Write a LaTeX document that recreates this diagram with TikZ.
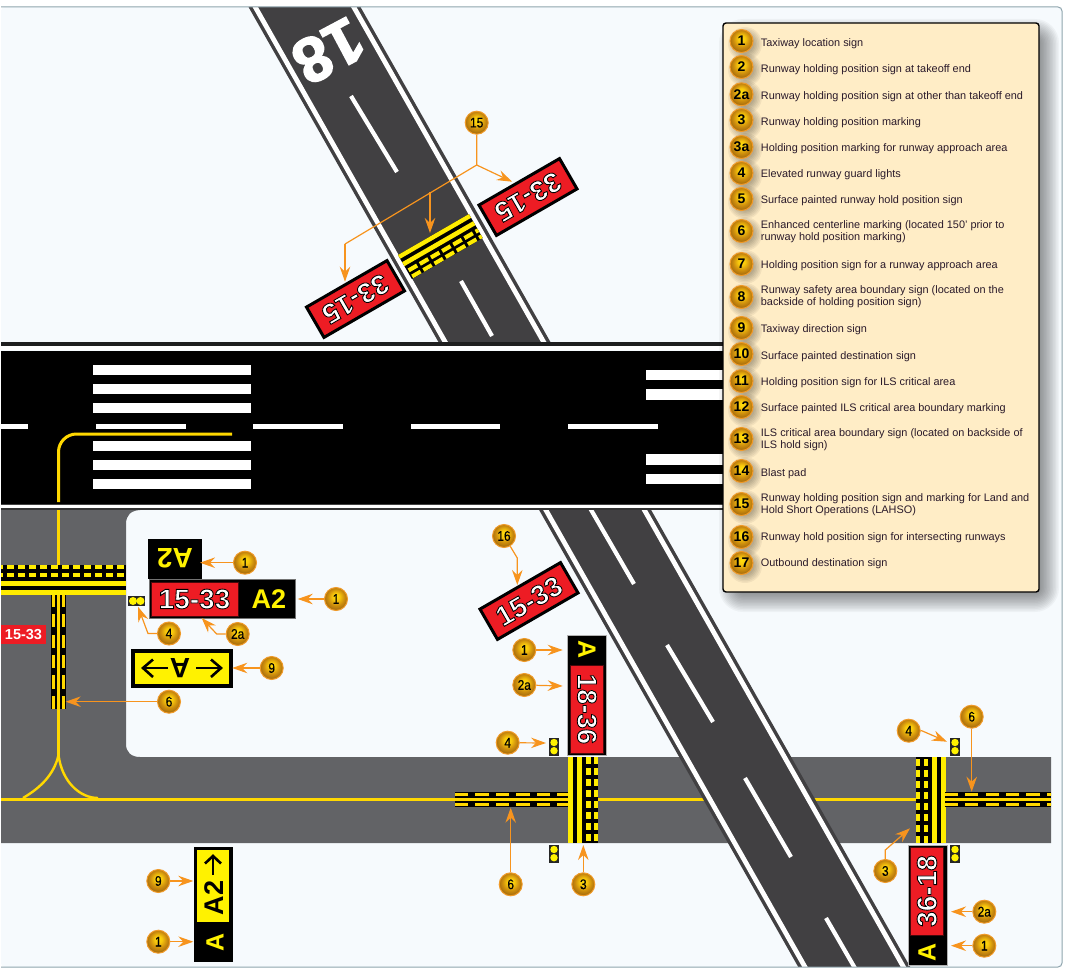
\documentclass[tikz,border=0pt]{standalone}
\usepackage{fontspec}
\usepackage{xcolor}
\setmainfont{Liberation Sans}
\newfontface\outf{Liberation Sans Bold}[FakeBold=3]
\newfontface\narf{Liberation Sans}[FakeStretch=0.85,FakeBold=0.4]
\newfontface\bignum{Liberation Sans Bold}[FakeBold=2.5]
\usetikzlibrary{arrows.meta}
\definecolor{panelbg}{HTML}{F6FAFD}
\definecolor{panelln}{HTML}{8FA5AE}
\definecolor{asphalt}{HTML}{414042}
\definecolor{taxi}{HTML}{626366}
\definecolor{markY}{HTML}{FFEC00}
\definecolor{lineY}{HTML}{FFD800}
\definecolor{signY}{HTML}{FFF200}
\definecolor{signR}{HTML}{ED1C24}
\definecolor{arrowO}{HTML}{F7941E}
\definecolor{legbg}{HTML}{FFEDC6}
\definecolor{legtx}{HTML}{2A1A2A}
\definecolor{ringO}{HTML}{F09A28}
\pgfdeclareradialshading{goldball}{\pgfpoint{0bp}{6bp}}{%
  rgb(0bp)=(1,0.88,0.04);rgb(8bp)=(0.97,0.78,0.05);rgb(18bp)=(0.80,0.55,0.05);rgb(28bp)=(0.62,0.40,0.05);rgb(50bp)=(0.62,0.40,0.05)}
\newcommand\otxt[2]{\fontsize{#1}{#1}\selectfont\outf\special{pdf:bcolor [1 1 1] [0 0 0]}#2\special{pdf:ecolor}}
\tikzset{
  x=1pt,y=-1pt,
  arr/.style={draw=arrowO,line width=1.2pt,-{Stealth[length=15pt,width=10.5pt,inset=5pt]}},
  arrline/.style={draw=arrowO,line width=1.2pt},
  badge/.style={circle,minimum size=23pt,inner sep=0pt,draw=ringO,line width=1pt,shade,shading=goldball,text=black,font=\fontsize{14}{14}\selectfont\narf},
  legbadge/.style={badge,font=\fontsize{14}{14}\selectfont\bfseries},
  legtext/.style={anchor=west,inner sep=0pt,text=legtx,align=left,font=\fontsize{10.9}{12.2}\selectfont},
  redsign/.style={draw=black,fill=signR,line width=3pt,inner sep=0pt,minimum width=93pt,minimum height=35pt},
  yelbold/.style={inner sep=0pt,text=signY,font=\fontsize{27}{27}\selectfont\bfseries},
  blkbold/.style={inner sep=0pt,text=black,font=\fontsize{27}{27}\selectfont\bfseries},
  cline/.style={draw=lineY,line width=3pt},
  signarrow/.style={draw=black,line width=2.6pt},
}
% holding position marking; local x along, local y across (solid at 0, dashes at 30)
\newcommand\holdmark[6]{% x,y,rot,L,period,scale
  \begin{scope}[shift={(#1,#2)},rotate=#3,scale=#6]
    \fill[black] (0,0) rectangle (#4,30);
    \fill[markY] (0,0) rectangle (#4,4.7);
    \fill[markY] (0,9) rectangle (#4,14);
    \begin{scope}
      \clip (0,0) rectangle (#4,30);
      \pgfmathtruncatemacro\hmN{ceil(#4/#5)}
      \foreach \i in {0,...,\hmN}{
        \fill[markY] ({\i*#5+1.7},18) rectangle ({(\i+1)*#5-1.7},22.5);
        \fill[markY] ({\i*#5+1.7},25.7) rectangle ({(\i+1)*#5-1.7},30);
      }
    \end{scope}
  \end{scope}}
% enhanced centre line; local x along, y=0 centre
\newcommand\enhmark[4]{% x,y,rot,L
  \begin{scope}[shift={(#1,#2)},rotate=#3]
    \fill[black] (0,-7.4) rectangle (#4,7.4);
    \fill[lineY] (0,-1.6) rectangle (#4,1.6);
    \begin{scope}
      \clip (0,-7.4) rectangle (#4,7.4);
      \foreach \i in {0,...,6}{
        \fill[lineY] ({\i*20.4},-6.8) rectangle ({\i*20.4+13.3},-3.2);
        \fill[lineY] ({\i*20.4},3) rectangle ({\i*20.4+13.3},6.8);
      }
    \end{scope}
  \end{scope}}
% guard lights
\newcommand\lampv[2]{% x centre, y top
  \fill[black!85] (#1-5,#2) rectangle (#1+5,#2+17.5);
  \fill[signY] (#1,#2+4.5) circle (3.7);
  \fill[signY] (#1,#2+12.7) circle (3.7);}
% runway strip defined by left outer edge at y=a
\newcommand\runway[3]{% left outer x at y0, y0, y1
  \pgfmathsetmacro\rwa{#1}\pgfmathsetmacro\rwb{#1+(#3-#2)*0.567}
  \fill[asphalt] (\rwa,#2) -- (\rwa+112,#2) -- (\rwb+112,#3) -- (\rwb,#3) -- cycle;
  \fill[white] (\rwa+4,#2) -- (\rwa+9.5,#2) -- (\rwb+9.5,#3) -- (\rwb+4,#3) -- cycle;
  \fill[white] (\rwa+102.5,#2) -- (\rwa+108,#2) -- (\rwb+108,#3) -- (\rwb+102.5,#3) -- cycle;}
\begin{document}
\begin{tikzpicture}
\useasboundingbox (0,0) rectangle (1069,974);
\fill[white] (0,0) rectangle (1069,974);
\fill[panelbg] (1,7) [rounded corners=4pt] -- (1062,7) -- (1062,967) -- (1,967) -- cycle;
\begin{scope}
\clip (1,7) rectangle (1062,966.5);
% top runway
\runway{248.5}{7}{345}
\draw[white,line width=4.2pt] (351,96) -- (397,172);
\draw[white,line width=4.2pt] (461,281) -- (492,336);
\node[inner sep=0pt,rotate=208,text=white,font=\fontsize{63}{63}\selectfont\bignum] (n18) at (328.5,51) {18};
% taxiway surface
\fill[taxi] (1,510) -- (140,510) .. controls (131,510.5) and (126,515) .. (126,524) -- (126,744)
   .. controls (126,752) and (131,757) .. (140,757) -- (1051,757) -- (1051,843) -- (1,843) -- cycle;
% taxiway centre lines
\draw[cline] (1,799.5) -- (1040,799.5);
\draw[cline] (58.5,510) -- (58.5,757);
\draw[cline,line width=2.4pt] (58.5,755) .. controls (54,775) and (40,788) .. (23,798);
\draw[cline,line width=2.4pt] (58.5,755) .. controls (62,782) and (80,798) .. (98,798);
% lower runway
\runway{538}{508}{967}
\draw[white,line width=4.2pt] (590,508) -- (634,584);
\draw[white,line width=4.2pt] (667,645) -- (713,722);
\draw[white,line width=4.2pt] (745,778) -- (791,857);
\draw[white,line width=4.2pt] (826,918) -- (856,970);
% crossing runway
\fill[black!88] (1,342) rectangle (723,346);
\fill[white] (1,346) rectangle (723,350);
\fill[black] (1,350.5) rectangle (723,503.5);
\fill[white] (1,504) rectangle (723,507.5);
\fill[black!75] (1,503.5) rectangle (723,504);
\fill[black!80] (1,507.5) rectangle (723,510);
\foreach \a/\b in {365/375,384/394,403/413,441/451,460/470,479/489}{\fill[white] (93,\a) rectangle (251,\b);}
\foreach \a/\b in {370/380,389/400,454/465,474/484}{\fill[white] (646,\a) rectangle (723,\b);}
\foreach \a/\b in {1/28,96/186,253/343,411/500,568/658}{\fill[white] (\a,424) rectangle (\b,429);}
\draw[cline,rounded corners=18pt] (58.5,502) -- (58.5,434) -- (232,434);
% markings
\holdmark{398}{255}{30}{89}{14}{0.92}
\holdmark{126}{595}{180}{125}{11}{1}
\holdmark{568}{843}{90}{86}{11}{1}
\holdmark{946}{757}{-90}{86}{11}{1}
\enhmark{58.5}{709}{90}{114}
\enhmark{455}{799.5}{0}{113}
\enhmark{944.7}{799.5}{0}{106.3}
% painted sign
\node[fill=signR,inner sep=0pt,minimum width=45pt,minimum height=19pt,text=white,font=\fontsize{14.5}{14.5}\selectfont\bfseries] (paint) at (23.5,634.5) {15-33};
\end{scope}
% LAHSO signs
\node[redsign,rotate=210] (s33r) at (528,197) {\otxt{28}{33-15}};
\node[redsign,rotate=210] (s33l) at (355.5,299) {\otxt{28}{33-15}};
% taxiway signs at upper left
\node[fill=black,inner sep=0pt,minimum width=54pt,minimum height=40pt] (a2back) at (175,559) {};
\node[yelbold,rotate=180,font=\fontsize{28}{28}\selectfont\bfseries] (a2backt) at (175,558) {A2};
\node[fill=black,draw=black!55,line width=0.8pt,inner sep=0pt,minimum width=146pt,minimum height=39pt] (signrow) at (222,598.5) {};
\node[fill=signR,draw=black!70!signR,line width=0.6pt,inner sep=0pt,minimum width=87pt,minimum height=34pt] (signred) at (194.5,599) {\otxt{28}{15-33}};
\node[yelbold] (signa2) at (269,599) {A2};
\fill[black!85] (128,596) rectangle (145,606);
\fill[signY] (133,601) circle (4);
\fill[signY] (140.5,601) circle (4);
% direction sign
\node[draw=black,fill=signY,line width=4pt,inner sep=0pt,minimum width=98pt,minimum height=35pt] (dirsign) at (182,668.5) {};
\node[blkbold,rotate=180,font=\fontsize{28}{28}\selectfont\bfseries] (dirA) at (180,668) {A};
\draw[signarrow] (168,668) -- (143,668);
\draw[signarrow] (153,659.5) -- (143,668) -- (153,677);
\draw[signarrow] (196,668) -- (221,668);
\draw[signarrow] (211,659.5) -- (221,668) -- (211,677);
% intersecting runway sign
\node[redsign,rotate=30] (s1533) at (529,601) {\otxt{28}{15-33}};
% vertical sign at centre
\node[fill=black,draw=black!30,line width=0.4pt,inner sep=0pt,minimum width=39pt,minimum height=120pt] (vsign) at (586.5,695) {};
\node[fill=signR,draw=black!70!signR,line width=0.6pt,inner sep=0pt,rotate=-90,minimum width=88pt,minimum height=33.5pt] (vred) at (587,709) {\otxt{27.5}{18-36}};
\node[yelbold,rotate=-90,font=\fontsize{25}{25}\selectfont\bfseries] (vA) at (587,649.5) {A};
\lampv{554}{738}
\lampv{554}{845}
\lampv{955}{738}
\lampv{955}{845}
% right sign
\node[fill=black,draw=black!30,line width=0.4pt,inner sep=0pt,minimum width=39pt,minimum height=120pt] (rsign) at (927.5,905) {};
\node[fill=signR,draw=black!70!signR,line width=0.6pt,inner sep=0pt,rotate=90,minimum width=88pt,minimum height=33.5pt] (rred) at (927,891) {\otxt{28}{36-18}};
\node[yelbold,rotate=90,font=\fontsize{25}{25}\selectfont\bfseries] (rA) at (927,952) {A};
% bottom left sign
\node[fill=black,inner sep=0pt,minimum width=39pt,minimum height=115pt] (bsign) at (213.5,904.5) {};
\node[fill=signY,inner sep=0pt,minimum width=32pt,minimum height=72pt] (bY) at (213,886) {};
\node[blkbold,rotate=90] (bA2) at (214.3,898) {A2};
\draw[signarrow] (213,875) -- (213,856);
\draw[signarrow] (205,863.5) -- (213,856) -- (221,863.5);
\node[yelbold,rotate=90,font=\fontsize{25}{25}\selectfont\bfseries] (bA) at (215,942) {A};
% badges on the drawing
\node[badge] (b15) at (476.7,122.7) {15};
\coordinate (j15) at (476.7,165);
\coordinate (j15m) at (430,192);
\coordinate (j15l) at (345,244);
\coordinate (t15r) at (512,181.7);
\coordinate (t15m) at (430,233);
\coordinate (t15l) at (345,281.7);
\draw[arrline] (b15) -- (j15) -- (j15l);
\draw[arr] (j15) -- (t15r);
\draw[arr] (j15m) -- (t15m);
\draw[arr] (j15l) -- (t15l);
\node[badge] (b1a) at (245,562.7) {1};
\coordinate (t1a) at (200,562.7);
\draw[arr] (b1a) -- (t1a);
\node[badge] (b1b) at (336,599) {1};
\coordinate (t1b) at (297.7,599);
\draw[arr] (b1b) -- (t1b);
\node[badge] (b4a) at (169,633.5) {4};
\coordinate (k4a) at (148,633.5);
\coordinate (t4a) at (138,606.7);
\draw[arr] (b4a) -- (k4a) -- (t4a);
\node[badge] (b2a) at (237.7,634) {2a};
\coordinate (k2a) at (216.7,634);
\coordinate (t2a) at (201.7,618);
\draw[arr] (b2a) -- (k2a) -- (t2a);
\node[badge] (b9a) at (271.7,668) {9};
\coordinate (t9a) at (232.3,668);
\draw[arr] (b9a) -- (t9a);
\node[badge] (b6a) at (169,701.7) {6};
\coordinate (t6a) at (65.7,701.7);
\draw[arr] (b6a) -- (t6a);
\node[badge] (b16) at (504,536) {16};
\coordinate (k16) at (517.3,558);
\coordinate (t16) at (517.3,585);
\draw[arr] (b16) -- (k16) -- (t16);
\node[badge] (b1c) at (524.3,650) {1};
\coordinate (t1c) at (562.7,650);
\draw[arr] (b1c) -- (t1c);
\node[badge] (b2b) at (524.3,685) {2a};
\coordinate (t2b) at (562.7,686);
\draw[arr] (b2b) -- (t2b);
\node[badge] (b4b) at (507.7,742.7) {4};
\coordinate (t4b) at (546,743);
\draw[arr] (b4b) -- (t4b);
\node[badge] (b6b) at (510.7,884.3) {6};
\coordinate (t6b) at (510.7,807.7);
\draw[arr] (b6b) -- (t6b);
\node[badge] (b3a) at (583.3,884.3) {3};
\coordinate (t3a) at (583.3,845);
\draw[arr] (b3a) -- (t3a);
\node[badge] (b4c) at (908.7,730.7) {4};
\coordinate (k4c) at (921.7,730.7);
\coordinate (t4c) at (947,741.7);
\draw[arr] (b4c) -- (k4c) -- (t4c);
\node[badge] (b6c) at (971.7,716.7) {6};
\coordinate (t6c) at (971.7,791.7);
\draw[arr] (b6c) -- (t6c);
\node[badge] (b3b) at (885.3,871) {3};
\coordinate (k3b) at (885.3,850);
\coordinate (t3b) at (910,828.3);
\draw[arr] (b3b) -- (k3b) -- (t3b);
\node[badge] (b2c) at (984.3,911.7) {2a};
\coordinate (t2c) at (951,911.7);
\draw[arr] (b2c) -- (t2c);
\node[badge] (b1d) at (984.3,945.7) {1};
\coordinate (t1d) at (951,945.7);
\draw[arr] (b1d) -- (t1d);
\node[badge] (b9b) at (158.3,881) {9};
\coordinate (t9b) at (193.3,881);
\draw[arr] (b9b) -- (t9b);
\node[badge] (b1e) at (158.3,941.7) {1};
\coordinate (t1e) at (193.3,941.7);
\draw[arr] (b1e) -- (t1e);
% legend shadow: stacked soft layers
\begin{scope}
\clip (1,7) rectangle (1062,966.5);
\foreach \r in {12,10.5,...,-10.5}{
  \pgfmathsetmacro\rc{\r+12}
  \fill[black,opacity=0.035,rounded corners=\rc pt] (731-\r,31-\r) rectangle (1047+\r,600+\r);
}
\end{scope}
% legend
\node[draw=black,line width=1.4pt,fill=legbg,rounded corners=3pt,inner sep=0pt,minimum width=316pt,minimum height=569pt] (legend) at (881,307.5) {};
\foreach \nm/\lab/\by/\ty/\tx in {
 la/1/41/43.5/{Taxiway location sign},
 lb/2/67/69.5/{Runway holding position sign at takeoff end},
 lc/2a/94.3/96.5/{Runway holding position sign at other than takeoff end},
 ld/3/120/122.5/{Runway holding position marking},
 le/3a/147/148.5/{Holding position marking for runway approach area},
 lf/4/173/174.5/{Elevated runway guard lights},
 lg/5/199/200.5/{Surface painted runway hold position sign},
 lh/6/231/232/{Enhanced centerline marking (located 150' prior to\\runway hold position marking)},
 li/7/264/265.5/{Holding position sign for a runway approach area},
 lj/8/297/296.5/{Runway safety area boundary sign (located on the\\backside of holding position sign)},
 lk/9/328/329.5/{Taxiway direction sign},
 ll/10/354/356.5/{Surface painted destination sign},
 lm/11/381/382.5/{Holding position sign for ILS critical area},
 ln/12/407/408.5/{Surface painted ILS critical area boundary marking},
 lo/13/439/439.5/{ILS critical area boundary sign (located on backside of\\ILS hold sign)},
 lp/14/471/473.5/{Blast pad},
 lq/15/504/504.5/{Runway holding position sign and marking for Land and\\Hold Short Operations (LAHSO)},
 lr/16/537/537.5/{Runway hold position sign for intersecting runways},
 ls/17/563/563.5/{Outbound destination sign}}{
  \foreach \sr in {17,15.5,...,9}{\fill[black,opacity=0.05] (745,\by+3) circle (\sr);}
  \node[legbadge] (\nm b) at (741.5,\by) {\lab};
  \node[legtext] (\nm t) at (760.7,\ty) {\tx};
}
\draw[panelln,line width=1pt,rounded corners=4pt] (1,7) -- (1062,7) -- (1062,967) -- (1,967);
\end{tikzpicture}
\end{document}
